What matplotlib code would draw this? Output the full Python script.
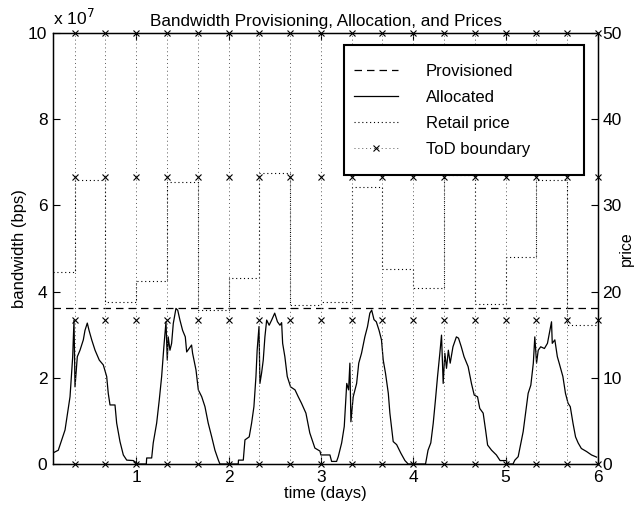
import matplotlib
matplotlib.use("Agg")
import matplotlib.pyplot as plt
import matplotlib.patches as mpatches
import numpy as np

plt.rcParams['font.family'] = ['Liberation Sans', 'DejaVu Sans']

# allocated bandwidth (units of 1e7 bps)
alloc_t = [0.103, 0.157, 0.23, 0.284, 0.313, 0.327, 0.338, 0.363, 0.392, 0.428, 0.446, 0.471,
           0.49, 0.519, 0.555, 0.601, 0.644, 0.681, 0.698, 0.717, 0.771, 0.789, 0.825, 0.861,
           0.898, 0.969, 1.02,
           1.11, 1.114, 1.168, 1.185, 1.222, 1.25, 1.276, 1.30, 1.323, 1.337, 1.347, 1.366, 1.384,
           1.402, 1.431, 1.45, 1.474, 1.503, 1.532, 1.547, 1.60, 1.611, 1.648, 1.673, 1.71,
           1.745, 1.78, 1.818, 1.853, 1.89, 1.907,
           2.105, 2.108, 2.16, 2.178, 2.224, 2.25, 2.275, 2.297, 2.31, 2.33, 2.34, 2.358, 2.376,
           2.394, 2.413, 2.44, 2.467, 2.50, 2.53, 2.557, 2.575, 2.586, 2.61, 2.636, 2.672, 2.72,
           2.755, 2.79, 2.838, 2.88, 2.935, 2.99,
           3.0, 3.098, 3.116, 3.17, 3.188, 3.225, 3.253, 3.28, 3.30, 3.314, 3.325, 3.35, 3.387,
           3.41, 3.44, 3.476, 3.505, 3.53, 3.55, 3.575, 3.60, 3.63, 3.656, 3.675, 3.70, 3.73,
           3.747, 3.783, 3.82, 3.866, 3.91, 3.945,
           4.133, 4.16, 4.19, 4.216, 4.24, 4.263, 4.288, 4.306, 4.324, 4.342, 4.36, 4.38, 4.40,
           4.43, 4.467, 4.49, 4.52, 4.55, 4.594, 4.63, 4.66, 4.696, 4.72, 4.757, 4.783, 4.805,
           4.848, 4.90, 4.94, 5.01, 5.015,
           5.08, 5.10, 5.136, 5.165, 5.19, 5.216, 5.244, 5.273, 5.30, 5.316, 5.335, 5.353, 5.38,
           5.42, 5.453, 5.48, 5.497, 5.505, 5.533, 5.56, 5.58, 5.62, 5.648, 5.676, 5.70, 5.73,
           5.757, 5.785, 5.82, 5.876, 5.93, 5.985]
alloc_v = [0.26, 0.32, 0.79, 1.56, 2.49, 3.34, 1.79, 2.49, 2.64, 2.88, 3.10, 3.27,
           3.10, 2.88, 2.64, 2.41, 2.30, 2.03, 1.64, 1.37, 1.37, 0.95, 0.52, 0.21,
           0.09, 0.08, 0.0,
           0.0, 0.14, 0.14, 0.49, 0.95, 1.48, 2.03, 2.72, 3.30, 2.41, 2.95, 2.64, 2.80,
           3.26, 3.61, 3.57, 3.34, 3.10, 2.95, 2.60, 2.76, 2.57, 2.18, 1.72, 1.56,
           1.33, 0.95, 0.63, 0.32, 0.09, 0.0,
           0.0, 0.09, 0.09, 0.56, 0.63, 0.95, 1.33, 2.03, 2.64, 3.19, 1.87, 2.11, 2.41,
           2.95, 3.34, 3.22, 3.34, 3.50, 3.30, 3.22, 3.28, 2.80, 2.49, 2.03, 1.79, 1.72,
           1.56, 1.41, 1.18, 0.72, 0.37, 0.30,
           0.21, 0.21, 0.06, 0.06, 0.17, 0.49, 0.87, 1.87, 1.72, 2.34, 0.98, 1.56, 1.87,
           2.34, 2.57, 2.95, 3.19, 3.50, 3.57, 3.35, 3.30, 3.10, 2.88, 2.41, 2.10, 1.64,
           1.18, 0.52, 0.45, 0.25, 0.08, 0.0,
           0.0, 0.32, 0.49, 0.94, 1.48, 2.03, 2.57, 2.99, 1.87, 2.57, 2.22, 2.64, 2.34,
           2.72, 2.95, 2.92, 2.72, 2.49, 2.26, 1.87, 1.60, 1.56, 1.29, 1.18, 0.79, 0.44,
           0.32, 0.21, 0.08, 0.08, 0.0,
           0.0, 0.09, 0.17, 0.48, 0.75, 1.18, 1.64, 1.83, 2.34, 2.95, 2.34, 2.64, 2.72,
           2.68, 2.80, 3.10, 3.30, 2.80, 2.88, 2.49, 2.34, 2.03, 1.64, 1.41, 1.33, 0.94,
           0.63, 0.49, 0.36, 0.29, 0.21, 0.16]

provisioned = 3.61  # 1e7 bps

# time-of-day boundaries (hours) and retail price per period
tod_hours = [8, 16, 24, 32, 40, 48, 56, 64, 72, 80, 88, 96, 104, 112, 120, 128, 136, 144]
price_start = [0.1, 8/24, 16/24, 1, 32/24, 40/24, 2, 56/24, 64/24, 3, 80/24, 88/24,
               4, 104/24, 112/24, 5, 128/24, 136/24, 6]
price_vals = [22.3, 32.9, 18.8, 21.2, 32.75, 17.9, 21.6, 33.8, 18.4, 18.8, 32.1, 22.6,
              20.4, 33.5, 18.6, 24.0, 32.9, 16.1]
tod_marks = [0, 50/3, 100/3, 50]

fig = plt.figure(figsize=(6.35, 5.08), dpi=100)
ax = fig.add_axes([0.0835, 0.0866, 0.8582, 0.8484])
ax2 = ax.twinx()

h_prov = ax.axhline(provisioned * 1e7, color='black', ls=(0, (6, 4)), lw=0.9)
h_alloc, = ax.plot(alloc_t, np.array(alloc_v) * 1e7, color='black', lw=0.9)

h_price, = ax2.step(price_start, price_vals + [price_vals[-1]], where='post',
                    color='black', ls=(0, (1, 2.5)), lw=0.8)
for hr in tod_hours:
    d = hr / 24
    h_tod, = ax2.plot([d] * len(tod_marks), tod_marks, color='0.35', ls=(0, (1, 3)),
                      lw=0.7, marker='x', ms=4, mew=0.8, mec='black', clip_on=False)

ax.set_xlim(0.1, 6)
ax.set_ylim(0, 1e8)
ax2.set_ylim(0, 50)
ax.set_xticks([1, 2, 3, 4, 5, 6])
ax.set_yticks(np.arange(0, 1.01e8, 2e7))
ax.set_yticklabels(['0', '2', '4', '6', '8', '10'])
ax2.set_yticks([0, 10, 20, 30, 40, 50])

ax.tick_params(direction='in', length=5, width=0.8, labelsize=12.5, top=True, pad=4)
ax2.tick_params(direction='in', length=5, width=0.8, labelsize=12.5, pad=3)
for s in ax2.spines.values():
    s.set_linewidth(1.0)

ax.set_xlabel('time (days)', fontsize=12, labelpad=1)
ax.set_ylabel('bandwidth (bps)', fontsize=12)
ax.yaxis.set_label_coords(-0.048, 0.5)
ax2.set_ylabel('price', fontsize=11.5)
ax2.yaxis.set_label_coords(1.038, 0.5)
ax.set_title('Bandwidth Provisioning, Allocation, and Prices', fontsize=12.3, pad=5)
ax.text(0.0, 1.012, r'x 10$^{7}$', transform=ax.transAxes, fontsize=12.5,
        ha='left', va='bottom')

# legend box drawn by hand so its padding matches the original
box = mpatches.Rectangle((0.534, 0.671), 0.44, 0.301, transform=ax2.transAxes,
                         facecolor='white', edgecolor='black', lw=1.5, zorder=5)
ax2.add_patch(box)
leg = ax2.legend([h_prov, h_alloc, h_price, h_tod],
                 ['Provisioned', 'Allocated', 'Retail price', 'ToD boundary'],
                 loc='upper left', bbox_to_anchor=(0.552, 0.928), borderaxespad=0,
                 borderpad=0, fontsize=12, frameon=False,
                 handlelength=2.65, handletextpad=1.65, labelspacing=0.65,
                 numpoints=1)
leg.set_zorder(6)

fig.savefig('out.png', dpi=100)
